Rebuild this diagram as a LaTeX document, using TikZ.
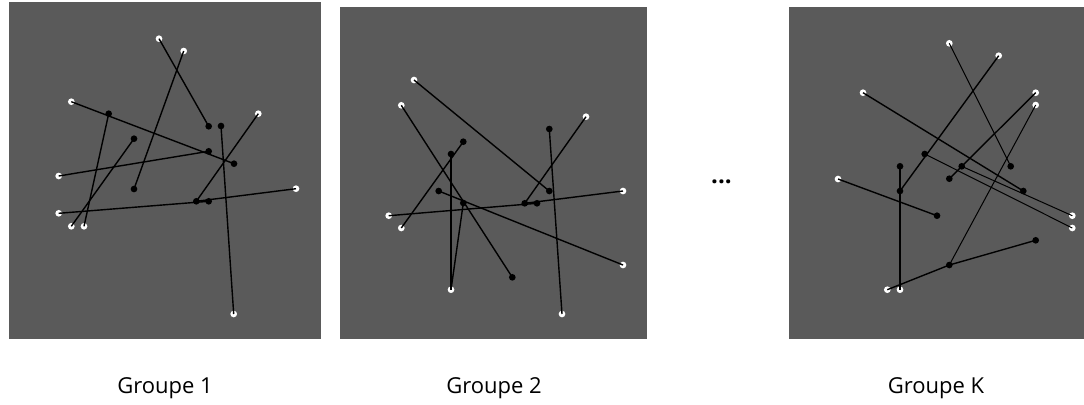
\documentclass[tikz,border=0pt]{standalone}
\usepackage{fontspec}
\newfontfamily\labfont{Open Sans}
\pgfdeclarelayer{panel}
\pgfdeclarelayer{wlayer}
\pgfdeclarelayer{lines}
\pgfsetlayers{panel,wlayer,lines,main}
\definecolor{panelgray}{RGB}{90,90,90}
\tikzset{
  wdot/.style={circle,fill=white,draw=none,inner sep=0pt,minimum size=5pt},
  bdot/.style={circle,fill=black,draw=none,inner sep=0pt,minimum size=5pt},
  seg/.style={draw=black,line width=1.05pt},
  thinseg/.style={draw=black,line width=0.75pt},
  panelbox/.style={fill=panelgray,draw=none},
  grouplabel/.style={font=\labfont\fontsize{16.5}{19}\selectfont,anchor=base,inner sep=0pt},
  dotslabel/.style={font=\labfont\bfseries\fontsize{18}{20}\selectfont,anchor=base,inner sep=0pt}
}
\begin{document}
\begin{tikzpicture}[x=0.75pt,y=-0.75pt]
\useasboundingbox (0,0) rectangle (1084,404);
\begin{pgfonlayer}{panel}
\fill[white] (0,0) rectangle (1084,404);
\path[panelbox] (9,2) rectangle (321,339);
\path[panelbox] (340,7) rectangle (647,339);
\path[panelbox] (789,7) rectangle (1084,339);
\end{pgfonlayer}

% ---------- Panel 1 ----------
\begin{pgfonlayer}{wlayer}
\node[wdot] (p1w1) at (159,38.7) {};
\node[wdot] (p1w2) at (183.7,51) {};
\node[wdot] (p1w3) at (71.3,101.7) {};
\node[wdot] (p1w4) at (258.3,113.7) {};
\node[wdot] (p1w5) at (58.7,176) {};
\node[wdot] (p1w6) at (296,188.7) {};
\node[wdot] (p1w7) at (58.7,213.3) {};
\node[wdot] (p1w8) at (71.3,226.3) {};
\node[wdot] (p1w9) at (84,226.3) {};
\node[wdot] (p1w10) at (233.7,314) {};
\end{pgfonlayer}
\node[bdot] (p1b1) at (108.7,113.7) {};
\node[bdot] (p1b2) at (134,138.7) {};
\node[bdot] (p1b3) at (208.7,126.3) {};
\node[bdot] (p1b4) at (221,126) {};
\node[bdot] (p1b5) at (208.7,151.3) {};
\node[bdot] (p1b6) at (234,163.7) {};
\node[bdot] (p1b7) at (134,189) {};
\node[bdot] (p1b8) at (196.3,201.3) {};
\node[bdot] (p1b9) at (208.7,201.3) {};
\begin{pgfonlayer}{lines}
\draw[seg] (p1w1.center) -- (p1b3.center);
\draw[seg] (p1w2.center) -- (p1b7.center);
\draw[seg] (p1w3.center) -- (p1b6.center);
\draw[seg] (p1b1.center) -- (p1w9.center);
\draw[seg] (p1b2.center) -- (p1w8.center);
\draw[seg] (p1b4.center) -- (p1w10.center);
\draw[seg] (p1w4.center) -- (p1b8.center);
\draw[seg] (p1w5.center) -- (p1b5.center);
\draw[seg] (p1w7.center) -- (p1b9.center);
\draw[seg] (p1w6.center) -- (p1b8.center);
\end{pgfonlayer}

% ---------- Panel 2 ----------
\begin{pgfonlayer}{wlayer}
\node[wdot] (p2w1) at (414,80) {};
\node[wdot] (p2w2) at (401.3,105.3) {};
\node[wdot] (p2w3) at (586,116.7) {};
\node[wdot] (p2w4) at (623,191) {};
\node[wdot] (p2w5) at (388.7,215.7) {};
\node[wdot] (p2w6) at (401.3,228) {};
\node[wdot] (p2w7) at (623,265) {};
\node[wdot] (p2w8) at (451,289.7) {};
\node[wdot] (p2w9) at (562,314) {};
\end{pgfonlayer}
\node[bdot] (p2b1) at (549.3,129) {};
\node[bdot] (p2b2) at (463.3,141.7) {};
\node[bdot] (p2b3) at (451,154) {};
\node[bdot] (p2b4) at (549.3,191) {};
\node[bdot] (p2b5) at (438.7,191) {};
\node[bdot] (p2b6) at (463.3,203) {};
\node[bdot] (p2b7) at (524.7,203.3) {};
\node[bdot] (p2b8) at (537,203.3) {};
\node[bdot] (p2b9) at (512.3,277.3) {};
\begin{pgfonlayer}{lines}
\draw[seg] (p2w1.center) -- (p2b4.center);
\draw[seg] (p2w2.center) -- (p2b9.center);
\draw[seg] (p2w3.center) -- (p2b7.center);
\draw[seg] (p2b1.center) -- (p2w9.center);
\draw[seg] (p2b2.center) -- (p2w6.center);
\draw[seg] (p2b3.center) -- (p2w8.center);
\draw[seg] (p2w8.center) -- (p2b6.center);
\draw[seg] (p2b5.center) -- (p2w7.center);
\draw[seg] (p2w5.center) -- (p2b8.center);
\draw[seg] (p2w4.center) -- (p2b7.center);
\end{pgfonlayer}

% ---------- Panel 3 ----------
\begin{pgfonlayer}{wlayer}
\node[wdot] (p3w1) at (949.3,43.3) {};
\node[wdot] (p3w2) at (998.7,55.7) {};
\node[wdot] (p3w3) at (863,92.7) {};
\node[wdot] (p3w4) at (1035.7,92.7) {};
\node[wdot] (p3w5) at (1035.7,105) {};
\node[wdot] (p3w6) at (838,179) {};
\node[wdot] (p3w7) at (1072.3,215.7) {};
\node[wdot] (p3w8) at (1072.3,228) {};
\node[wdot] (p3w9) at (887.3,289.7) {};
\node[wdot] (p3w10) at (900,289.7) {};
\end{pgfonlayer}
\node[bdot] (p3b1) at (924.7,154) {};
\node[bdot] (p3b2) at (900,166.3) {};
\node[bdot] (p3b3) at (961.7,166.3) {};
\node[bdot] (p3b4) at (1010.7,166.3) {};
\node[bdot] (p3b5) at (949.3,178.7) {};
\node[bdot] (p3b6) at (900,191) {};
\node[bdot] (p3b7) at (1023.3,191) {};
\node[bdot] (p3b8) at (937,215.7) {};
\node[bdot] (p3b9) at (1035.7,240.3) {};
\node[bdot] (p3b10) at (949.3,265) {};
\begin{pgfonlayer}{lines}
\draw[thinseg] (p3w1.center) -- (p3b4.center);
\draw[seg] (p3w2.center) -- (p3b6.center);
\draw[seg] (p3w3.center) -- (p3b7.center);
\draw[seg] (p3w4.center) -- (p3b5.center);
\draw[thinseg] (p3w5.center) -- (p3b10.center);
\draw[seg] (p3b2.center) -- (p3w10.center);
\draw[seg] (p3w6.center) -- (p3b8.center);
\draw[thinseg] (p3b1.center) -- (p3w8.center);
\draw[thinseg] (p3b3.center) -- (p3w7.center);
\draw[seg] (p3w9.center) -- (p3b10.center);
\draw[seg] (p3b10.center) -- (p3b9.center);
\end{pgfonlayer}

% ---------- Ellipsis and labels ----------
\node[dotslabel] (dots) at (721.5,183.5) {...};
\node[grouplabel] (g1) at (165,393) {Groupe 1};
\node[grouplabel] (g2) at (494,393) {Groupe 2};
\node[grouplabel] (gk) at (936,393) {Groupe K};
\end{tikzpicture}
\end{document}
